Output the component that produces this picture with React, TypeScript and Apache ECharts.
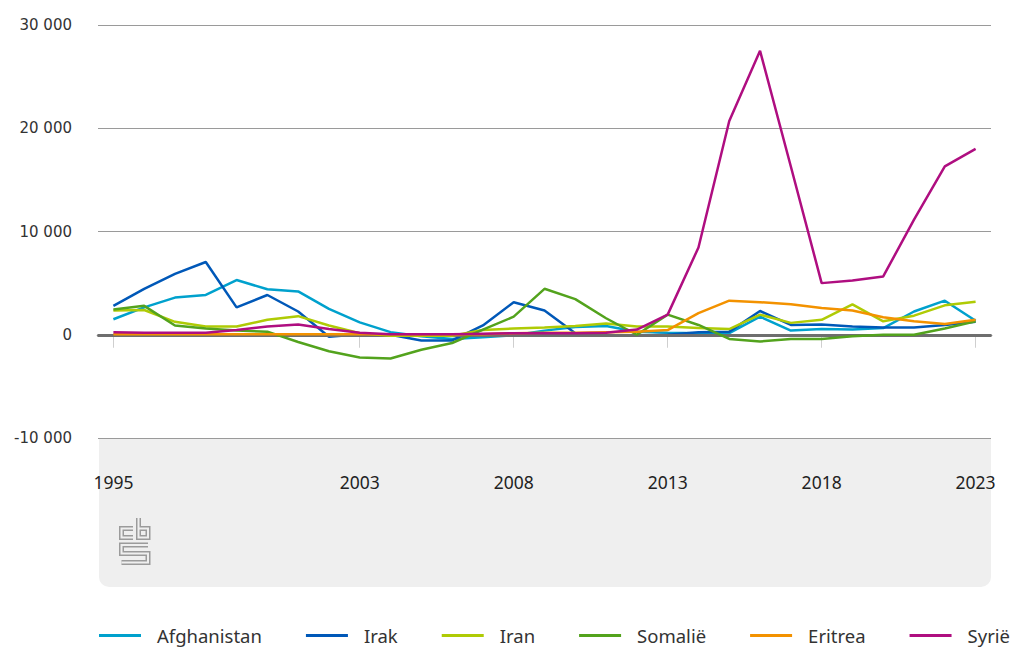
import React, { useEffect, useRef } from "react";
import * as echarts from "echarts";

const years = [1995,1996,1997,1998,1999,2000,2001,2002,2003,2004,2005,2006,2007,2008,2009,2010,2011,2012,2013,2014,2015,2016,2017,2018,2019,2020,2021,2022,2023];
const labelYears = [1995, 2003, 2008, 2013, 2018, 2023];

const afghanistan = [1500,2650,3600,3850,5300,4400,4200,2500,1200,250,-150,-400,-250,-50,400,750,850,300,200,150,150,1750,400,550,500,650,2250,3300,1350];
const irak = [2800,4450,5900,7050,2650,3850,2250,-200,50,0,-550,-550,900,3150,2350,150,-100,-100,0,250,300,2300,950,1000,800,700,700,950,1250];
const iran = [2350,2400,1250,800,800,1450,1800,900,150,-100,-100,-100,450,600,700,850,1100,800,800,650,550,1950,1150,1450,2950,1300,1850,2850,3200];
const somalie = [2450,2800,900,600,400,300,-700,-1600,-2200,-2300,-1450,-800,500,1750,4450,3450,1600,0,1950,950,-400,-650,-400,-400,-150,0,0,600,1300];
const eritrea = [50,50,50,50,50,50,50,50,50,50,50,50,50,150,200,200,250,300,450,2100,3300,3150,2950,2600,2350,1700,1300,1050,1450];
const syrie = [250,200,200,200,450,800,1000,550,200,50,50,50,100,150,150,150,200,500,1950,8450,20700,27500,16300,5000,5250,5650,11150,16300,18000];

const seriesNames = ["Afghanistan", "Irak", "Iran", "Somalië", "Eritrea", "Syrië"];
const seriesValues = [afghanistan, irak, iran, somalie, eritrea, syrie];
const seriesColors = ["#00a1cd", "#0058b8", "#afcb05", "#53a31d", "#f39200", "#af0e80"];

const fmt = (v: number) => {
  const s = Math.abs(v).toString().replace(/\B(?=(\d{3})+(?!\d))/g, " ");
  return (v < 0 ? "-" : "") + s;
};

export default function App() {
  const ref = useRef<HTMLDivElement>(null);
  useEffect(() => {
    if (!ref.current) return;
    const chart = echarts.init(ref.current, undefined, { renderer: "svg" });
    const bg = "#efefef";
    const logoStroke = "#9b9b9b";
    const logoPaths = [
      [[133, 528.5], [121.5, 528.5], [121.5, 537.5], [133, 537.5]],
      [[138.5, 518], [138.5, 537.5], [148, 537.5], [148, 528.5], [138.5, 528.5]],
      [[148, 545], [121.5, 545], [121.5, 553.5], [148, 553.5], [148, 562.5], [121.5, 562.5]],
    ];
    const logoEls: any[] = [];
    logoPaths.forEach((pts) => {
      logoEls.push({ type: "polyline", z: -5, shape: { points: pts }, style: { stroke: logoStroke, lineWidth: 5, fill: null, lineJoin: "miter" } });
    });
    logoPaths.forEach((pts) => {
      logoEls.push({ type: "polyline", z: -4, shape: { points: pts }, style: { stroke: bg, lineWidth: 2, fill: null, lineJoin: "miter" } });
    });
    const series: any[] = seriesNames.map((name, i) => ({
      name,
      type: "line",
      data: years.map((y, j) => [y, seriesValues[i][j]]),
      showSymbol: false,
      symbol: "none",
      lineStyle: { width: 2.5, color: seriesColors[i] },
      itemStyle: { color: seriesColors[i] },
      z: 3 + i,
    }));
    series.unshift({
      name: "zero",
      type: "line",
      data: [],
      z: 2,
      markLine: {
        silent: true,
        symbol: "none",
        label: { show: false },
        lineStyle: { color: "#6e6e6e", width: 3, type: "solid" },
        data: [{ yAxis: 0 }],
      },
    });
    chart.setOption({
      animation: false,
      backgroundColor: "#ffffff",
      grid: { left: 98, right: 27, top: 25, height: 413 },
      graphic: [
        {
          type: "rect",
          z: -10,
          shape: { x: 99, y: 439, width: 892, height: 148, r: [0, 0, 10, 10] },
          style: { fill: bg },
        },
        ...logoEls,
      ],
      xAxis: {
        type: "value",
        min: 1994.5,
        max: 2023.5,
        splitLine: { show: false },
        axisLine: { show: true, lineStyle: { color: "#7a7a7a", width: 2.5 } },
        axisTick: { show: true, customValues: labelYears, length: 13, lineStyle: { color: "#cfcfcf", width: 1 } },
        axisLabel: {
          customValues: labelYears,
          margin: 35,
          fontSize: 17.5,
          fontFamily: "Noto Sans",
          color: "#222",
          formatter: (v: number) => String(v),
        },
      },
      yAxis: {
        type: "value",
        min: -10000,
        max: 30000,
        interval: 10000,
        axisLine: { show: false },
        axisTick: { show: false },
        splitLine: { lineStyle: { color: "#9a9a9a", width: 1.2 } },
        axisLabel: {
          margin: 26,
          fontSize: 15,
          fontFamily: "DejaVu Sans",
          color: "#333",
          formatter: (v: number) => fmt(v),
        },
      },
      legend: {
        data: seriesNames,
        left: 99,
        top: 626,
        width: 960,
        padding: 0,
        itemWidth: 42,
        itemHeight: 3,
        itemGap: 44,
        icon: "rect",
        textStyle: { fontSize: 18.5, fontFamily: "Noto Sans", color: "#333", padding: [0, 0, 0, 11] },
      },
      series,
    });
    return () => chart.dispose();
  }, []);
  return <div ref={ref} style={{ position: "fixed", left: 0, top: 0, width: 1018, height: 649 }} />;
}
